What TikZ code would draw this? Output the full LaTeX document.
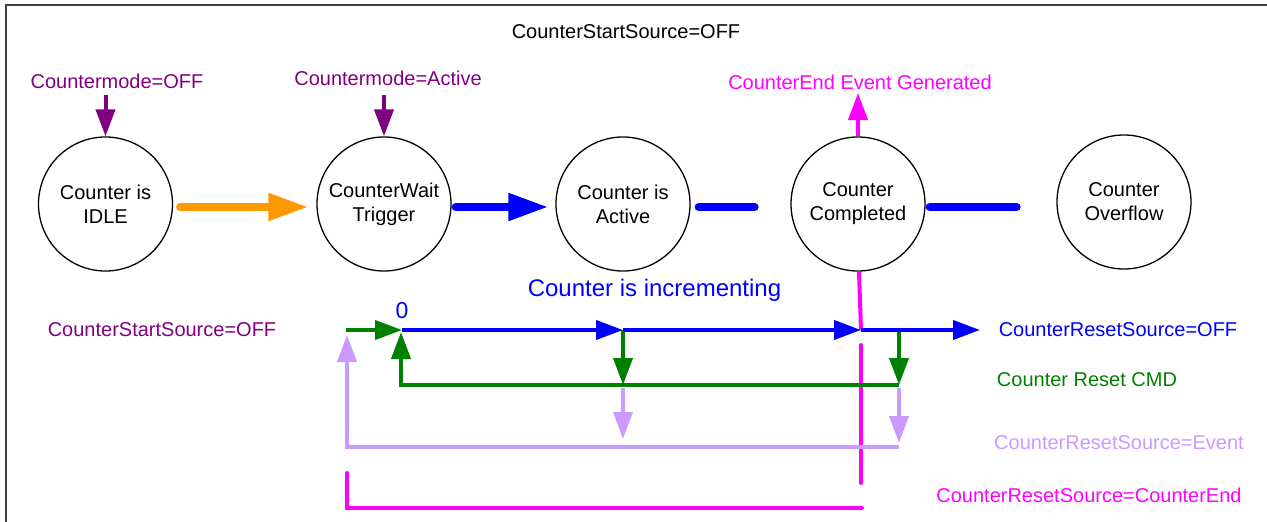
\documentclass[tikz,border=0pt]{standalone}
\usepackage{fontspec}
\setmainfont{Liberation Sans}
\usetikzlibrary{arrows.meta}
\definecolor{cpurple}{HTML}{800080}
\definecolor{cblue}{HTML}{0000FF}
\definecolor{cgreen}{HTML}{008000}
\definecolor{clav}{HTML}{CC99FF}
\definecolor{cmag}{HTML}{FF00FF}
\definecolor{corange}{HTML}{FF9900}
\definecolor{cframe}{HTML}{404040}
\tikzset{
  state/.style={circle,draw=black,line width=1.3pt,minimum size=134pt,inner sep=0pt,align=center,
    font=\fontsize{20}{24}\selectfont},
  lbl/.style={inner sep=0pt,font=\fontsize{20}{24}\selectfont},
  fatarrow/.style={line width=8pt,line cap=round,-{Triangle[length=40pt,width=26pt]}},
  fatline/.style={line width=8pt,line cap=round},
  thinarrow/.style={line width=4pt,-{Triangle[length=27pt,width=19pt]}},
  thinline/.style={line width=4pt},
}
\begin{document}
\begin{tikzpicture}[x=1pt,y=-1pt]
\useasboundingbox (0,0) rectangle (1267,522);
% frame
\draw[cframe,line width=2pt] (6,522) -- (6,5) -- (1267,5);

% states
\node[state] (c1) at (105.5,204) {Counter is\\IDLE};
\node[state] (c2) at (384,204) {CounterWait\\Trigger};
\node[state] (c3) at (623,204) {Counter is\\Active};
\node[state] (c4) at (858,204) {Counter\\Completed};
\node[state] (c5) at (1124,202) {Counter\\Overflow};

% top labels
\node[lbl] (top) at (626,32) {CounterStartSource=OFF};
\node[lbl,text=cpurple] (m1) at (117,81) {Countermode=OFF};
\node[lbl,text=cpurple] (m2) at (388,78) {Countermode=Active};
\node[lbl,text=cmag] (ev) at (860,82) {CounterEnd Event Generated};

\coordinate (p1) at (105.5,95);
\coordinate (p2) at (384,95);
\coordinate (pe) at (858,93);
\draw[thinarrow,cpurple] (p1) -- (c1.north);
\draw[thinarrow,cpurple] (p2) -- (c2.north);
\draw[thinarrow,cmag] (c4.north) -- (pe);

% state transitions
\draw[fatarrow,corange] ([shift={(7,3)}]c1.east) -- ([shift={(-8,3)}]c2.west);
\draw[fatarrow,cblue] ([shift={(4,3)}]c2.east) -- ([shift={(-7,3)}]c3.west);
\draw[fatline,cblue] ([shift={(8,3)}]c3.east) -- ([shift={(64,3)}]c3.east);
\draw[fatline,cblue] ([shift={(4,3)}]c4.east) -- ([shift={(91,3)}]c4.east);

% middle labels
\node[lbl,text=cblue,font=\fontsize{24}{28}\selectfont] (inc) at (654.5,290) {Counter is incrementing};
\node[lbl,text=cpurple] (ss) at (162,330) {CounterStartSource=OFF};
\node[lbl,text=cblue,font=\fontsize{23}{27}\selectfont] (zero) at (402,311) {0};
\node[lbl,text=cblue] (l1) at (1118,330) {CounterResetSource=OFF};
\node[lbl,text=cgreen] (l2) at (1087,380) {Counter Reset CMD};
\node[lbl,text=clav] (l3) at (1119,443) {CounterResetSource=Event};
\node[lbl,text=cmag] (l4) at (1089,495) {CounterResetSource=CounterEnd};

% timeline coordinates
\coordinate (gs) at (346,330);
\coordinate (z) at (402,330);
\coordinate (a1) at (623,330);
\coordinate (a2) at (861,330);
\coordinate (a3) at (899,330);
\coordinate (bend) at (980,330);
\coordinate (g1) at (623,385);
\coordinate (g2) at (899,385);
\coordinate (gl) at (401,385);
\coordinate (gt) at (401,332);
\coordinate (v1s) at (623,388);
\coordinate (v2s) at (899,388);
\coordinate (v1) at (623,439);
\coordinate (v2) at (899,443);
\coordinate (vr) at (899,447);
\coordinate (vl) at (347,447);
\coordinate (vt) at (347,335);
\coordinate (ms) at (861,345);
\coordinate (me) at (861,483);
\coordinate (bs) at (347,473);
\coordinate (bc) at (347,508);
\coordinate (be) at (862,508);

% magenta
\draw[cmag,thinline] ([xshift=1]c4.south) -- (a2);
\draw[cmag,thinline,line cap=round] (ms) -- (me);
\draw[cmag,thinline,line cap=round] (bs) -- (bc) -- (be);

% lavender
\draw[clav,thinarrow] (v1s) -- (v1);
\draw[clav,thinarrow] (v2s) -- (v2);
\draw[clav,thinarrow] (vr) -- (vl) -- (vt);

% green
\draw[cgreen,thinarrow] (gs) -- (z);
\draw[cgreen,thinarrow] (a1) -- (g1);
\draw[cgreen,thinarrow] (a3) -- (g2);
\draw[cgreen,thinarrow] (g2) -- (gl) -- (gt);

% blue timeline
\draw[cblue,thinarrow] (z) -- (a1);
\draw[cblue,thinarrow] (a1) -- (a2);
\draw[cblue,thinarrow] (a2) -- (bend);
\end{tikzpicture}
\end{document}
